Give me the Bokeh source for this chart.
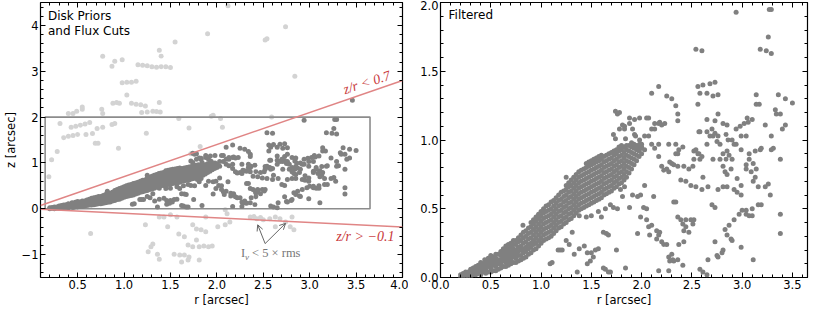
import math
from bokeh.plotting import figure
from bokeh.layouts import row
from bokeh.models import (LinearAxis, SingleIntervalTicker, Range1d, Arrow, OpenHead,
                          NumeralTickFormatter)
from bokeh.core.properties import value
from bokeh.embed import file_html
from bokeh.resources import INLINE

# ---------------- data (r, z in arcsec) ----------------
# dense disk band: (r, [z values])
BAND = [
    (0.20, [0.00, 0.02]),
    (0.25, [0.00, 0.02, 0.04]),
    (0.30, [0.01, 0.03, 0.06]),
    (0.35, [0.02, 0.05, 0.08]),
    (0.40, [0.02, 0.05, 0.08, 0.11]),
    (0.45, [0.03, 0.06, 0.09, 0.12]),
    (0.50, [0.04, 0.07, 0.10, 0.13, 0.16]),
    (0.55, [0.05, 0.08, 0.11, 0.14, 0.17]),
    (0.60, [0.07, 0.10, 0.13, 0.16, 0.19]),
    (0.65, [0.08, 0.11, 0.14, 0.17, 0.20, 0.23]),
    (0.70, [0.10, 0.13, 0.16, 0.19, 0.22, 0.25]),
    (0.75, [0.11, 0.14, 0.17, 0.20, 0.24, 0.27]),
    (0.80, [0.13, 0.16, 0.20, 0.23, 0.27, 0.31]),
    (0.85, [0.15, 0.19, 0.22, 0.26, 0.30, 0.34]),
    (0.90, [0.18, 0.22, 0.25, 0.29, 0.33, 0.37, 0.40]),
    (0.95, [0.21, 0.25, 0.29, 0.33, 0.37, 0.41, 0.44]),
    (1.00, [0.25, 0.29, 0.33, 0.37, 0.41, 0.45, 0.48]),
    (1.05, [0.28, 0.32, 0.36, 0.40, 0.44, 0.48, 0.52]),
    (1.10, [0.30, 0.34, 0.38, 0.42, 0.46, 0.50, 0.55]),
    (1.15, [0.34, 0.38, 0.42, 0.46, 0.50, 0.54, 0.58]),
    (1.20, [0.37, 0.41, 0.45, 0.49, 0.53, 0.57, 0.62]),
    (1.25, [0.40, 0.44, 0.48, 0.52, 0.56, 0.60, 0.64, 0.67]),
    (1.30, [0.43, 0.47, 0.51, 0.55, 0.59, 0.63, 0.67, 0.71]),
    (1.35, [0.47, 0.51, 0.55, 0.59, 0.63, 0.67, 0.71, 0.75]),
    (1.40, [0.50, 0.54, 0.58, 0.62, 0.66, 0.70, 0.74, 0.78]),
    (1.45, [0.52, 0.56, 0.60, 0.64, 0.68, 0.72, 0.76, 0.80, 0.83]),
    (1.50, [0.54, 0.58, 0.62, 0.66, 0.70, 0.74, 0.78, 0.82, 0.85]),
    (1.55, [0.56, 0.60, 0.64, 0.68, 0.72, 0.76, 0.80, 0.84, 0.87]),
    (1.60, [0.58, 0.62, 0.66, 0.70, 0.74, 0.78, 0.82, 0.86, 0.89]),
    (1.65, [0.61, 0.65, 0.69, 0.73, 0.77, 0.81, 0.85, 0.89]),
    (1.70, [0.63, 0.67, 0.71, 0.75, 0.79, 0.83, 0.87, 0.91]),
    (1.75, [0.66, 0.70, 0.74, 0.78, 0.82, 0.86, 0.90, 0.93]),
    (1.80, [0.69, 0.73, 0.77, 0.81, 0.85, 0.89, 0.93, 0.96]),
    (1.85, [0.73, 0.77, 0.81, 0.85, 0.89, 0.93, 0.96]),
    (1.90, [0.79, 0.83, 0.87, 0.91, 0.95, 0.98]),
    (1.95, [0.85, 0.89, 0.93, 0.96]),
    (2.00, [0.90, 0.94, 0.97]),
]
# in-between columns of the same band
BAND_B = [
    (0.225, [0.01, 0.03]),
    (0.275, [0.01, 0.04]),
    (0.325, [0.02, 0.04, 0.07]),
    (0.375, [0.03, 0.06, 0.09]),
    (0.425, [0.04, 0.07, 0.10]),
    (0.475, [0.04, 0.08, 0.11, 0.14]),
    (0.525, [0.05, 0.09, 0.12, 0.15]),
    (0.575, [0.06, 0.10, 0.13, 0.17]),
    (0.625, [0.08, 0.12, 0.15, 0.18, 0.21]),
    (0.675, [0.09, 0.12, 0.15, 0.18, 0.21, 0.24]),
    (0.725, [0.11, 0.15, 0.18, 0.21, 0.24, 0.27]),
    (0.775, [0.12, 0.16, 0.19, 0.22, 0.26, 0.29]),
    (0.825, [0.14, 0.18, 0.21, 0.25, 0.29, 0.33]),
    (0.875, [0.17, 0.21, 0.24, 0.28, 0.32, 0.36]),
    (0.925, [0.20, 0.24, 0.27, 0.31, 0.35, 0.39, 0.42]),
    (0.975, [0.23, 0.27, 0.31, 0.35, 0.39, 0.43, 0.46]),
    (1.025, [0.27, 0.31, 0.35, 0.39, 0.43, 0.47, 0.50]),
    (1.075, [0.29, 0.33, 0.37, 0.41, 0.45, 0.49, 0.53]),
    (1.125, [0.32, 0.36, 0.40, 0.44, 0.48, 0.52, 0.56]),
    (1.175, [0.36, 0.40, 0.44, 0.48, 0.52, 0.56, 0.60]),
    (1.225, [0.39, 0.43, 0.47, 0.51, 0.55, 0.59, 0.63]),
    (1.275, [0.42, 0.46, 0.50, 0.54, 0.58, 0.62, 0.66, 0.69]),
    (1.325, [0.45, 0.49, 0.53, 0.57, 0.61, 0.65, 0.69, 0.73]),
    (1.375, [0.49, 0.53, 0.57, 0.61, 0.65, 0.69, 0.73, 0.77]),
    (1.425, [0.51, 0.55, 0.59, 0.63, 0.67, 0.71, 0.75, 0.79]),
    (1.475, [0.53, 0.57, 0.61, 0.65, 0.69, 0.73, 0.77, 0.81, 0.84]),
    (1.525, [0.55, 0.59, 0.63, 0.67, 0.71, 0.75, 0.79, 0.83, 0.86]),
    (1.575, [0.57, 0.61, 0.65, 0.69, 0.73, 0.77, 0.81, 0.85, 0.88]),
    (1.625, [0.60, 0.64, 0.68, 0.72, 0.76, 0.80, 0.84, 0.88]),
    (1.675, [0.62, 0.66, 0.70, 0.74, 0.78, 0.82, 0.86, 0.90]),
    (1.725, [0.65, 0.69, 0.73, 0.77, 0.81, 0.85, 0.89, 0.92]),
    (1.775, [0.68, 0.72, 0.76, 0.80, 0.84, 0.88, 0.92, 0.95]),
    (1.825, [0.71, 0.75, 0.79, 0.83, 0.87, 0.91, 0.95]),
    (1.875, [0.76, 0.80, 0.84, 0.88, 0.92, 0.96]),
    (1.925, [0.82, 0.86, 0.90, 0.94, 0.97]),
    (1.975, [0.88, 0.92, 0.95]),
]

# scattered accepted points (r, z)
SCATTER = [
    (2.94, 1.93), (3.27, 1.95), (3.29, 1.95), (3.26, 1.75), (3.18, 1.66), (3.24, 1.65), (3.29, 1.63),
    (2.54, 1.66), (2.60, 1.65), (2.17, 1.39), (2.10, 1.34), (2.25, 1.32), (2.30, 1.30), (2.34, 1.25),
    (2.36, 1.19), (1.74, 1.21), (1.76, 1.19), (1.78, 1.20), (2.56, 1.39), (2.61, 1.40), (2.68, 1.41),
    (2.73, 1.42), (2.58, 1.34), (2.65, 1.34), (2.71, 1.32), (2.76, 1.33), (2.56, 1.26), (3.14, 1.33),
    (3.14, 1.26), (3.17, 1.26), (3.36, 1.33), (3.43, 1.30), (3.50, 1.27), (3.33, 1.22), (3.34, 1.19),
    (3.38, 1.19), (3.43, 1.11), (3.40, 1.08), (3.23, 1.11), (3.29, 1.03), (3.18, 0.93), (3.29, 0.93),
    (2.94, 1.08), (2.98, 1.10), (3.02, 1.12), (3.06, 1.13), (3.10, 1.15), (3.05, 1.16), (2.92, 0.97),
    (2.99, 1.03), (2.76, 1.19), (2.65, 1.15), (2.73, 1.14), (2.81, 1.12), (2.85, 1.11), (2.57, 1.06),
    (2.70, 1.08), (2.73, 1.05), (2.76, 1.03), (2.78, 0.97), (2.68, 1.03), (2.65, 0.97), (2.84, 1.04),
    (2.86, 1.00), (2.52, 0.92), (2.56, 0.90), (2.34, 0.97), (2.41, 0.95), (1.83, 1.10), (1.88, 1.12),
    (1.93, 1.15), (1.88, 1.16), (1.98, 1.16), (2.05, 1.16), (2.07, 1.16), (2.03, 1.03), (2.10, 1.08),
    (2.17, 1.12), (2.23, 1.12), (2.13, 1.12), (2.18, 1.13), (2.20, 1.11), (2.07, 1.03), (2.13, 1.08),
    (1.94, 1.03), (1.98, 0.97), (2.00, 0.95), (2.10, 0.97), (2.13, 0.94), (2.17, 0.97), (2.27, 0.97),
    (2.36, 0.90), (1.81, 1.11), (1.78, 1.08), (1.83, 1.08), (1.72, 1.04), (1.74, 1.01), (1.84, 1.01),
    (1.91, 1.08), (1.93, 1.04), (1.98, 1.00), (1.99, 0.95), (2.03, 0.93), (2.17, 0.88), (2.36, 1.14),
    (2.58, 1.06), (2.65, 1.06), (2.71, 1.03), (2.75, 0.99), (2.90, 1.00), (2.94, 0.97), (2.99, 0.93),
    (3.04, 1.03), (3.19, 0.94), (3.31, 0.94), (3.38, 0.86), (2.37, 0.93), (2.34, 0.90), (2.54, 0.93),
    (2.57, 0.90), (2.60, 0.88), (2.52, 0.86), (2.58, 0.86), (2.71, 0.86), (2.78, 0.86), (2.84, 0.86),
    (2.87, 0.89), (2.90, 0.86), (2.81, 0.90), (2.85, 0.92), (3.07, 0.86), (3.11, 0.83), (3.14, 0.79),
    (3.04, 0.82), (3.07, 0.90), (3.13, 0.92), (2.30, 0.83), (2.32, 0.82), (2.36, 0.81), (2.42, 0.81),
    (2.47, 0.79), (2.51, 0.81), (2.61, 0.73), (2.81, 0.81), (2.83, 0.77), (2.85, 0.75), (2.89, 0.79),
    (2.95, 0.72), (3.04, 0.79), (3.09, 0.77), (3.13, 0.73), (2.44, 0.70), (2.49, 0.67), (2.54, 0.66),
    (2.60, 0.64), (2.66, 0.66), (2.76, 0.64), (2.81, 0.66), (2.85, 0.66), (2.92, 0.64), (2.99, 0.67),
    (3.16, 0.66), (3.23, 0.66), (3.26, 0.68), (3.11, 0.70), (2.20, 0.81), (2.25, 0.79), (2.28, 0.84),
    (2.22, 0.78), (2.27, 0.77), (2.39, 0.71), (1.25, 0.73), (1.83, 0.66), (1.79, 0.64), (2.03, 0.67),
    (1.38, 0.45), (1.45, 0.44), (1.50, 0.45), (1.57, 0.48), (1.64, 0.50), (1.69, 0.53), (1.72, 0.51),
    (1.76, 0.50), (1.60, 0.44), (1.81, 0.59), (1.91, 0.60), (1.96, 0.59), (1.99, 0.60), (1.88, 0.51),
    (2.02, 0.51), (2.05, 0.50), (1.99, 0.44), (2.05, 0.42), (2.12, 0.59), (2.32, 0.55), (2.10, 0.38),
    (2.15, 0.34), (2.18, 0.33), (1.96, 0.32), (2.08, 0.31), (2.15, 0.28), (2.20, 0.26), (2.25, 0.24),
    (2.30, 0.17), (2.28, 0.12), (2.32, 0.12), (1.31, 0.33), (1.62, 0.33), (1.65, 0.32), (1.67, 0.31),
    (1.25, 0.27), (1.28, 0.24), (1.43, 0.23), (1.38, 0.21), (1.33, 0.17), (1.46, 0.18), (1.50, 0.18),
    (1.54, 0.20), (1.57, 0.21), (1.52, 0.15), (1.49, 0.12), (1.46, 0.10), (1.75, 0.20), (1.64, 0.06),
    (1.67, 0.04), (1.84, 0.07), (1.36, 0.04), (1.21, 0.20), (0.82, 0.38), (1.19, 0.20), (1.17, 0.20),
    (1.11, 0.11), (1.09, 0.10), (0.44, 0.13), (1.62, 0.07), (1.69, 0.04), (2.17, 0.05), (2.27, 0.05),
    (2.27, 0.15), (2.31, 0.13), (2.36, 0.13), (2.41, 0.09), (2.95, 0.62), (2.99, 0.60), (3.28, 0.60),
    (2.34, 0.55), (2.70, 0.53), (2.73, 0.51), (3.16, 0.53), (3.19, 0.53), (2.36, 0.44), (2.39, 0.42),
    (2.44, 0.42), (2.49, 0.42), (2.52, 0.42), (2.51, 0.39), (2.41, 0.39), (2.44, 0.37), (2.47, 0.33),
    (2.37, 0.24), (2.42, 0.26), (2.73, 0.26), (2.66, 0.13), (2.76, 0.15), (2.80, 0.18), (2.81, 0.20),
    (2.58, 0.06), (2.61, 0.04), (2.65, 0.02), (2.83, 0.35), (2.87, 0.38), (2.92, 0.42), (2.97, 0.46),
    (3.00, 0.49), (3.04, 0.49), (3.10, 0.50), (3.04, 0.46), (3.07, 0.45), (3.10, 0.45), (2.85, 0.31),
    (2.89, 0.28), (2.90, 0.27), (2.99, 0.22), (3.11, 0.13), (3.38, 0.46), (3.38, 0.32), (2.75, 0.16),
    (2.42, 0.34), (2.07, 0.37), (2.17, 0.31), (2.22, 0.24),
]

# accepted points visible only in the left panel (outside right panel's range)
EXTRA_DARK = [(3.46, 2.37)]

# rejected points (light grey, left panel only)
LIGHT = [
    (2.12, 4.43), (1.90, 3.82), (2.74, 3.97), (2.52, 3.68), (2.54, 3.71), (1.55, 3.64), (1.38, 3.46),
    (1.40, 3.33), (0.77, 3.33), (0.90, 3.22), (0.98, 3.25), (0.87, 3.11), (1.15, 3.14), (1.20, 3.13),
    (1.25, 3.12), (1.30, 3.10), (1.35, 3.09), (1.40, 3.10), (1.45, 3.10), (1.50, 3.08), (2.84, 2.89),
    (0.98, 2.75), (1.03, 2.76), (1.08, 2.76), (1.13, 2.78), (1.03, 2.48), (0.76, 2.17), (0.77, 2.08),
    (0.88, 2.30), (0.92, 2.32), (0.95, 2.30), (0.40, 2.08), (0.45, 2.08), (0.49, 2.13), (0.55, 2.17),
    (0.55, 2.22), (1.08, 2.30), (1.13, 2.28), (1.18, 2.27), (1.23, 2.24), (1.19, 2.10), (1.25, 2.11),
    (1.31, 2.13), (1.35, 2.12), (1.39, 2.11), (1.38, 2.32), (1.59, 1.97), (1.96, 2.04), (1.94, 2.02),
    (2.04, 1.97), (2.59, 2.00), (0.31, 1.86), (0.43, 1.78), (0.48, 1.80), (0.53, 1.82), (0.58, 1.85),
    (0.63, 1.88), (0.35, 1.55), (0.40, 1.58), (0.45, 1.60), (0.50, 1.62), (0.59, 1.62), (0.66, 1.64),
    (0.71, 1.75), (0.77, 1.78), (0.69, 1.43), (0.72, 1.43), (0.87, 1.84), (0.90, 1.86), (0.94, 1.32),
    (1.24, 1.65), (1.70, 1.76), (2.06, 1.78), (1.82, 1.36), (1.72, 1.20), (0.28, 1.25), (0.22, 1.07),
    (0.19, 0.70), (0.64, -0.54), (1.38, -0.18), (1.43, -0.18), (1.50, -0.13), (1.57, -0.18),
    (1.47, -0.39), (1.23, -0.35), (1.31, -0.77), (1.29, -0.83), (1.26, -0.94), (1.36, -0.99),
    (1.38, -1.10), (1.74, -0.35), (1.78, -0.44), (1.83, -0.46), (1.88, -0.50), (1.59, -0.55),
    (1.65, -0.61), (1.69, -0.79), (1.74, -0.83), (1.81, -0.83), (1.86, -0.81), (1.91, -0.83),
    (1.95, -0.81), (1.78, -0.68), (1.54, -0.99), (1.60, -1.01), (1.65, -1.01), (1.70, -1.05),
    (1.69, -1.12), (1.62, -1.16), (1.81, -1.12), (2.09, -0.02), (2.11, -0.11), (2.01, -0.39),
    (2.09, -0.35), (2.14, -0.29), (1.88, -0.18), (2.36, -0.18), (2.43, -0.22), (2.50, -0.24),
    (2.57, -0.22), (2.63, -0.18), (2.40, -0.17), (2.47, -0.19), (2.68, -0.22), (2.74, -0.29),
    (2.81, -0.18), (2.79, -0.39), (2.83, -0.46), (2.63, -0.39),
]

# cut definitions
BOX = dict(r_min=0.15, r_max=3.65, z_min=0.0, z_max=2.0)
SLOPE_UP = 0.7
SLOPE_LOW = -0.1
LINE_R = [0.1, 4.0]

# ---------------- assemble ----------------
bands = BAND + BAND_B
dark_r = [r for r, zs in bands for _ in zs] + [p[0] for p in SCATTER]
dark_z = [z for r, zs in bands for z in zs] + [p[1] for p in SCATTER]
extra_r = [p[0] for p in EXTRA_DARK]
extra_z = [p[1] for p in EXTRA_DARK]
light_r = [p[0] for p in LIGHT]
light_z = [p[1] for p in LIGHT]

DARK = "#808080"
LIGHTC = "#d3d3d3"
RED_LINE = "#e08585"
RED_TEXT = "#c8383a"
FONT = "DejaVu Sans"
TICK_FS = "11.5px"


def style(p, xint, yint, xfmt, yfmt, ylabel=None, overrides=None):
    p.outline_line_color = "black"
    p.outline_line_width = 1.2
    p.xgrid.visible = False
    p.ygrid.visible = False
    p.background_fill_color = "white"
    p.border_fill_color = "white"
    xt = SingleIntervalTicker(interval=xint, num_minor_ticks=5)
    yt = SingleIntervalTicker(interval=yint, num_minor_ticks=5)
    ax_x = LinearAxis(ticker=xt, axis_label="r [arcsec]",
                      formatter=NumeralTickFormatter(format=xfmt))
    ax_y = LinearAxis(ticker=yt, axis_label=ylabel,
                      formatter=NumeralTickFormatter(format=yfmt))
    ax_top = LinearAxis(ticker=xt)
    ax_right = LinearAxis(ticker=yt)
    for ax in (ax_x, ax_y, ax_top, ax_right):
        ax.axis_line_color = None
        ax.major_tick_in = 5
        ax.major_tick_out = 0
        ax.minor_tick_in = 3
        ax.minor_tick_out = 0
        ax.major_tick_line_color = "black"
        ax.minor_tick_line_color = "black"
        ax.major_tick_line_width = 1
        ax.minor_tick_line_width = 1
        ax.major_label_text_font = FONT
        ax.major_label_text_font_size = TICK_FS
        ax.major_label_text_color = "black"
        ax.axis_label_text_font = FONT
        ax.axis_label_text_font_size = TICK_FS
        ax.axis_label_text_font_style = "normal"
        ax.axis_label_text_color = "black"
        ax.major_label_standoff = 2
        ax.axis_label_standoff = 1
    for ax in (ax_top, ax_right):
        ax.major_label_text_font_size = "0px"
        ax.major_label_text_color = None
        ax.major_label_standoff = 0
    if overrides:
        ax_y.major_label_overrides = overrides
    p.add_layout(ax_x, "below")
    p.add_layout(ax_y, "left")
    p.add_layout(ax_top, "above")
    p.add_layout(ax_right, "right")


H = 309

# ---------------- left panel ----------------
p1 = figure(width=408, height=H, x_range=Range1d(0.1, 4.0), y_range=Range1d(-1.5, 4.5),
            output_backend="svg", toolbar_location=None, x_axis_type=None, y_axis_type=None,
            min_border_left=30, min_border_right=6, min_border_top=2, min_border_bottom=28)
style(p1, 0.5, 1, "0.0", "0", ylabel="z [arcsec]", overrides={-1: "\u22121"})

p1.scatter(light_r, light_z, size=5, fill_color=LIGHTC, line_color=None)
p1.quad(left=[BOX["r_min"]], right=[BOX["r_max"]], bottom=[BOX["z_min"]], top=[BOX["z_max"]],
        fill_color=None, line_color="#8c8c8c", line_width=1.6)
p1.scatter(dark_r + extra_r, dark_z + extra_z, size=5, fill_color=DARK, line_color=None)
p1.line(LINE_R, [SLOPE_UP * r for r in LINE_R], line_color=RED_LINE, line_width=1.5)
p1.line(LINE_R, [SLOPE_LOW * r for r in LINE_R], line_color=RED_LINE, line_width=1.5)

p1.text(x=[0.18], y=[4.36], text=["Disk Priors\nand Flux Cuts"], text_font=value(FONT),
        text_font_size="12px", text_color="black", text_baseline="top", text_align="left",
        text_line_height=1.1)
p1.text(x=[3.64], y=[2.60], text=["z/r < 0.7"], angle=0.31, text_font=value("Liberation Serif"),
        text_font_style="italic", text_font_size="14px", text_color=RED_TEXT,
        text_baseline="bottom", text_align="center")
p1.text(x=[3.60], y=[-0.61], text=["z/r > \u22120.1"], text_font=value("Liberation Serif"),
        text_font_style="italic", text_font_size="14px", text_color=RED_TEXT,
        text_baseline="middle", text_align="center")
# I_nu < 5 x rms
p1.text(x=[2.26], y=[-0.97], text=["I"], text_font=value("Liberation Serif"),
        text_font_size="12.5px", text_color="#777777", text_baseline="middle", text_align="left")
p1.text(x=[2.26], y=[-0.97], text=["\u03bd"], x_offset=4, y_offset=4, text_font=value("Liberation Serif"),
        text_font_style="italic", text_font_size="9px", text_color="#777777",
        text_baseline="middle", text_align="left")
p1.text(x=[2.26], y=[-0.97], text=["< 5 \u00d7 rms"], x_offset=11, text_font=value("Liberation Serif"),
        text_font_size="12.5px", text_color="#777777", text_baseline="middle", text_align="left")
for xe, ye in ((2.44, -0.35), (2.74, -0.32)):
    p1.add_layout(Arrow(end=OpenHead(size=6, line_color="#555555", line_width=0.9),
                        x_start=2.52, y_start=-0.76, x_end=xe, y_end=ye,
                        line_color="#555555", line_width=0.9))

# ---------------- right panel ----------------
p2 = figure(width=407, height=H, x_range=Range1d(0.0, 3.65), y_range=Range1d(0.0, 2.0),
            output_backend="svg", toolbar_location=None, x_axis_type=None, y_axis_type=None,
            min_border_left=32, min_border_right=8, min_border_top=2, min_border_bottom=28)
style(p2, 0.5, 0.5, "0.0", "0.0")
p2.scatter(dark_r, dark_z, size=5, fill_color=DARK, line_color=None)
p2.text(x=[0.08], y=[1.96], text=["Filtered"], text_font=value(FONT), text_font_size="12px",
        text_color="black", text_baseline="top", text_align="left")

layout = row(p1, p2)
open("out.html", "w").write(file_html(layout, INLINE))
